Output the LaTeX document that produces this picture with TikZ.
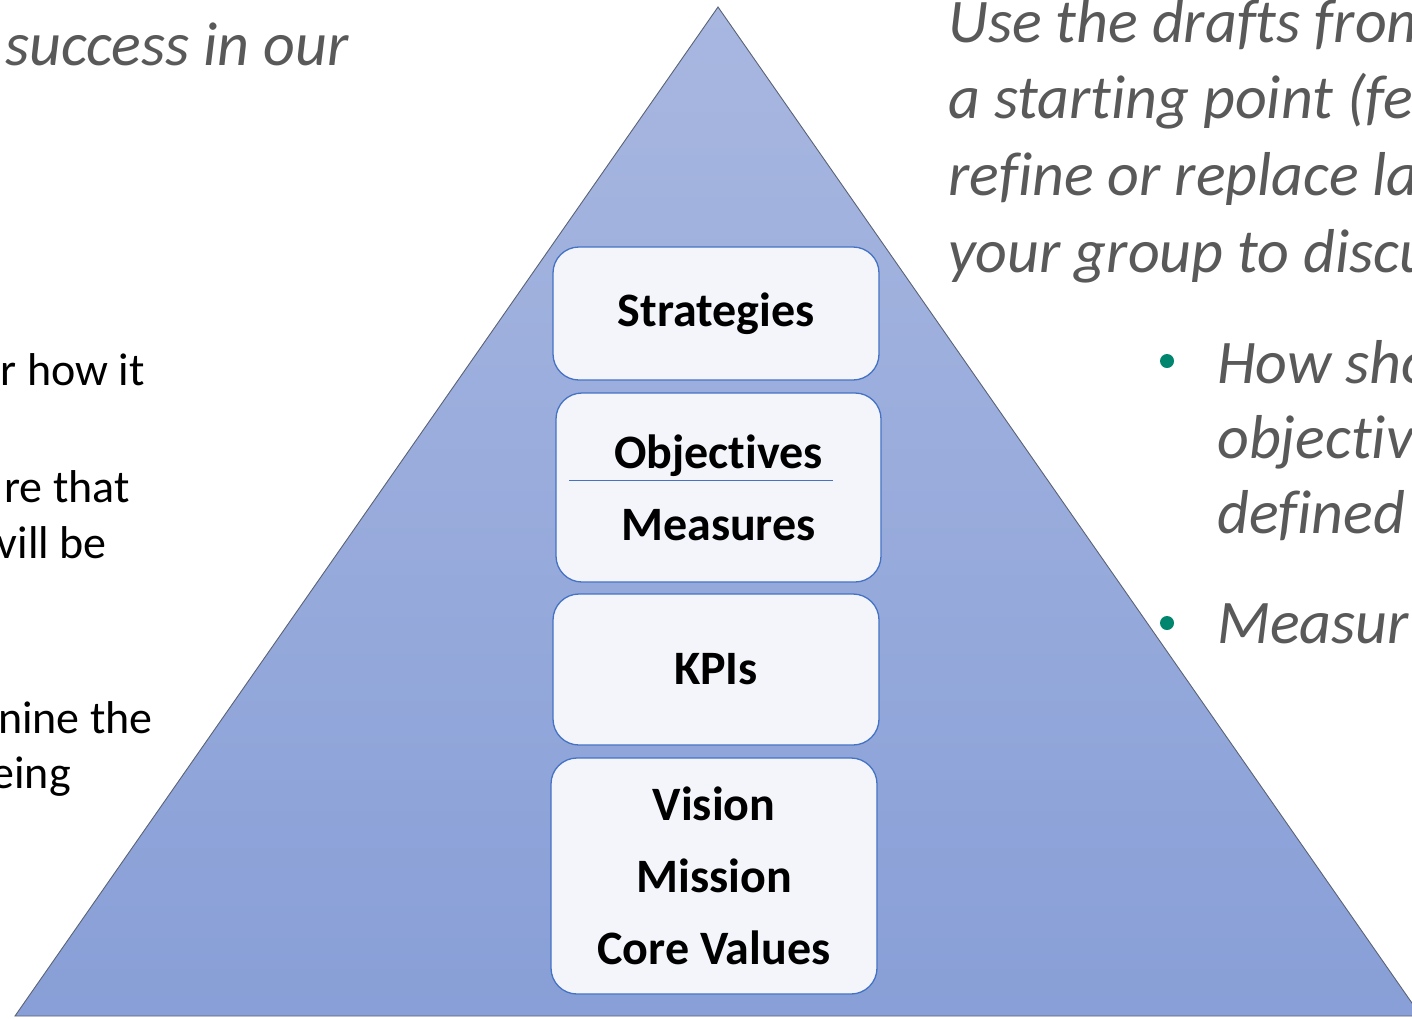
\documentclass[tikz,border=0pt]{standalone}
\usepackage{fontspec}
\setmainfont{Carlito}[Ligatures=NoCommon]
\usepackage{tikz}

\definecolor{pyrtop}{HTML}{A8B7E0}
\definecolor{pyrbot}{HTML}{889FD7}
\definecolor{pyredge}{HTML}{5A6275}
\definecolor{tierfill}{HTML}{F3F5FB}
\definecolor{tierdraw}{HTML}{4472C4}
\definecolor{notegrey}{HTML}{595959}
\definecolor{bullteal}{HTML}{00856F}

\begin{document}
\begin{tikzpicture}
            [x=1pt, y=-1pt,
             every node/.style={inner sep=0pt},
             tier/.style={rectangle, rounded corners=26pt, fill=tierfill, draw=tierdraw, line width=1.3pt, minimum width=326pt, align=center, font=\fontsize{48}{72}\selectfont\bfseries},
             note/.style={anchor=base west, text=notegrey, font=\fontsize{62}{75}\selectfont\itshape},
             side/.style={anchor=base east, text=black, font=\fontsize{46}{50}\selectfont},
             bull/.style={circle, minimum size=14pt, fill=bullteal}]
                \clip (0,0) rectangle (1412,1018);
                \fill[white] (0,0) rectangle (1412,1018);
                \shade [top color=pyrtop, bottom color=pyrbot, draw=pyredge, line width=0.9pt] (718,7) -- (1421,1016) -- (15,1016) -- cycle;
                \node (strat) [tier, minimum height=133pt] at (716, 313.5) {Strategies};
                \node (obj) [tier, minimum width=325pt, minimum height=189pt] at (718.5, 487.5) {Objectives\\Measures};
                \draw [tierdraw, line width=0.9pt] (569,480) -- (833,480);
                \node (kpi) [tier, minimum height=151pt] at (716, 669.5) {KPIs};
                \node (vis) [tier, minimum height=236pt] at (714, 876) {Vision\\Mission\\Core Values};
                \node (suc) [note] at (5, 65) {success in our};
                \node (use1) [note] at (948, 42) {Use the drafts from};
                \node (use2) [note] at (948, 118) {a starting point (fe};
                \node (use3) [note] at (948, 195) {refine or replace la};
                \node (use4) [note] at (948, 272) {your group to discu};
                \node (b1) [bull] at (1167, 361) {};
                \node (how1) [note] at (1217, 383) {How sho};
                \node (how2) [note] at (1217, 458) {objectiv};
                \node (how3) [note] at (1217, 533) {defined};
                \node (b2) [bull] at (1167, 623) {};
                \node (mea) [note] at (1217, 643) {Measur};
                \node (l1) [side] at (145, 385) {r how it};
                \node (l2) [side] at (130, 502) {re that};
                \node (l3) [side] at (107, 558) {vill be};
                \node (l4) [side] at (153, 733) {nine the};
                \node (l5) [side] at (71, 788) {eing};
            \end{tikzpicture}
\end{document}
